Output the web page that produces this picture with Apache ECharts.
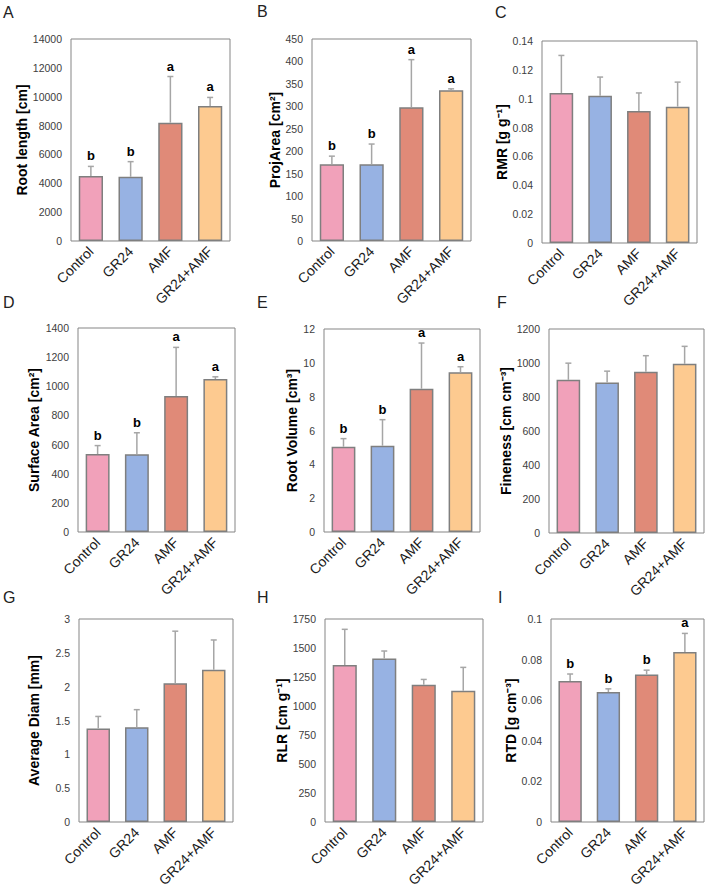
<!DOCTYPE html>
<html>
<head>
<meta charset="utf-8">
<script src="https://cdn.jsdelivr.net/npm/echarts@6/dist/echarts.min.js"></script>
<style>
html,body{margin:0;padding:0;background:#fff;}
#chart{width:709px;height:896px;}
</style>
</head>
<body>
<div id="chart"></div>
<script>
const categories = ['Control', 'GR24', 'AMF', 'GR24+AMF'];
const barColors = ['#F1A1BA', '#97B2E3', '#E08A78', '#FDCA90'];

// Panel values (mean) and error (upper SD)
const rootLength = [4500, 4450, 8200, 9350];
const rootLengthErr = [670, 1050, 3200, 600];
const rootLengthLetters = ['b', 'b', 'a', 'a'];

const projArea = [171, 171, 298, 336];
const projAreaErr = [18, 45, 106, 3];
const projAreaLetters = ['b', 'b', 'a', 'a'];

const rmr = [0.104, 0.102, 0.0915, 0.0945];
const rmrErr = [0.026, 0.013, 0.0125, 0.017];

const surfaceArea = [535, 533, 933, 1050];
const surfaceAreaErr = [58, 148, 334, 15];
const surfaceAreaLetters = ['b', 'b', 'a', 'a'];

const rootVolume = [5.04, 5.10, 8.47, 9.44];
const rootVolumeErr = [0.48, 1.54, 2.70, 0.33];
const rootVolumeLetters = ['b', 'b', 'a', 'a'];

const fineness = [901, 885, 948, 995];
const finenessErr = [98, 67, 95, 103];

const avgDiam = [1.38, 1.40, 2.05, 2.25];
const avgDiamErr = [0.18, 0.26, 0.77, 0.44];

const rlr = [1353, 1410, 1183, 1131];
const rlrErr = [308, 64, 46, 202];

const rtd = [0.0694, 0.0640, 0.0727, 0.0837];
const rtdErr = [0.0035, 0.0016, 0.0021, 0.0092];
const rtdLetters = ['b', 'b', 'b', 'a'];

// Y axis ticks
const yMax = [14000, 450, 0.14, 1400, 12, 1200, 3, 1750, 0.1];
const yInterval = [2000, 50, 0.02, 200, 2, 200, 0.5, 250, 0.02];

const yTitles = ['Root length [cm]', 'ProjArea [cm²]', 'RMR [g g⁻¹]', 'Surface Area [cm²]', 'Root Volume [cm³]', 'Fineness [cm cm⁻³]', 'Average Diam [mm]', 'RLR [cm g⁻¹]', 'RTD [g cm⁻³]'];
const panelLetters = ['A', 'B', 'C', 'D', 'E', 'F', 'G', 'H', 'I'];

const panels = [
  {v: rootLength, e: rootLengthErr, l: rootLengthLetters},
  {v: projArea, e: projAreaErr, l: projAreaLetters},
  {v: rmr, e: rmrErr, l: null},
  {v: surfaceArea, e: surfaceAreaErr, l: surfaceAreaLetters},
  {v: rootVolume, e: rootVolumeErr, l: rootVolumeLetters},
  {v: fineness, e: finenessErr, l: null},
  {v: avgDiam, e: avgDiamErr, l: null},
  {v: rlr, e: rlrErr, l: null},
  {v: rtd, e: rtdErr, l: rtdLetters}
];

// layout (pixels)
const grids = [
  {left: 71, top: 39, width: 159, height: 202, gap: 41},
  {left: 312, top: 39, width: 159, height: 202, gap: 29},
  {left: 542, top: 41, width: 155, height: 202, gap: 31},
  {left: 78, top: 328, width: 157, height: 204, gap: 37},
  {left: 324, top: 329, width: 156, height: 203, gap: 24},
  {left: 549, top: 329, width: 155, height: 204, gap: 36},
  {left: 79, top: 619, width: 154, height: 203, gap: 38},
  {left: 325, top: 619, width: 158, height: 203, gap: 35},
  {left: 551, top: 619, width: 153, height: 203, gap: 33}
];
const letterPos = [[3, 4], [257, 3], [495, 4], [3, 294], [257, 294], [497, 294], [3, 589], [257, 589], [498, 589]];

const FONT = "'Liberation Sans', Arial, sans-serif";

const option = {
  animation: false,
  backgroundColor: '#fff',
  grid: [], xAxis: [], yAxis: [], series: [], graphic: []
};

panels.forEach((p, k) => {
  const g = grids[k];
  option.grid.push({left: g.left, top: g.top, width: g.width, height: g.height, show: true, borderColor: '#858585', borderWidth: 1, backgroundColor: 'transparent', containLabel: false});
  option.xAxis.push({
    type: 'category', gridIndex: k, data: categories,
    axisLine: {show: false}, axisTick: {show: false},
    axisLabel: {interval: 0, rotate: 45, margin: 8, fontSize: 14, color: '#1a1a1a', fontFamily: FONT}
  });
  option.yAxis.push({
    type: 'value', gridIndex: k, min: 0, max: yMax[k], interval: yInterval[k],
    splitLine: {show: false}, axisLine: {show: false}, axisTick: {show: false},
    axisLabel: {fontSize: 10.5, color: '#404040', margin: 9, fontFamily: FONT,
      formatter: function (v) { return String(+v.toFixed(4)); }},
    name: yTitles[k], nameLocation: 'middle', nameGap: g.gap,
    nameTextStyle: {fontSize: 14, fontWeight: 'bold', color: '#000', fontFamily: FONT}
  });
  option.series.push({
    type: 'bar', xAxisIndex: k, yAxisIndex: k, barWidth: '61%',
    data: p.v.map((val, i) => ({value: val, itemStyle: {color: barColors[i]}})),
    itemStyle: {borderColor: '#7f7f7f', borderWidth: 1.5},
    z: 2
  });
  const letters = p.l;
  option.series.push({
    type: 'custom', xAxisIndex: k, yAxisIndex: k, z: 5, clip: false,
    data: p.v.map((val, i) => [i, val, p.e[i]]),
    encode: {x: 0, y: 1},
    renderItem: function (params, api) {
      const i = api.value(0), m = api.value(1), s = api.value(2);
      const p0 = api.coord([i, m]);
      const p1 = api.coord([i, m + s]);
      const children = [
        {type: 'line', shape: {x1: p0[0], y1: p0[1], x2: p1[0], y2: p1[1]}, style: {stroke: '#a6a6a6', lineWidth: 1.5}},
        {type: 'line', shape: {x1: p1[0] - 3, y1: p1[1], x2: p1[0] + 3, y2: p1[1]}, style: {stroke: '#a6a6a6', lineWidth: 1.5}}
      ];
      if (letters) {
        children.push({type: 'text', style: {text: letters[params.dataIndex], x: p1[0], y: p1[1] - 4, align: 'center', verticalAlign: 'bottom', fontSize: 13, fontWeight: 'bold', fontFamily: FONT, fill: '#000'}});
      }
      return {type: 'group', children: children};
    }
  });
  option.graphic.push({type: 'text', left: letterPos[k][0], top: letterPos[k][1], style: {text: panelLetters[k], fontSize: 16, fontFamily: FONT, fill: '#222'}});
});

const chart = echarts.init(document.getElementById('chart'), null, {renderer: 'svg'});
chart.setOption(option);
</script>
</body>
</html>
